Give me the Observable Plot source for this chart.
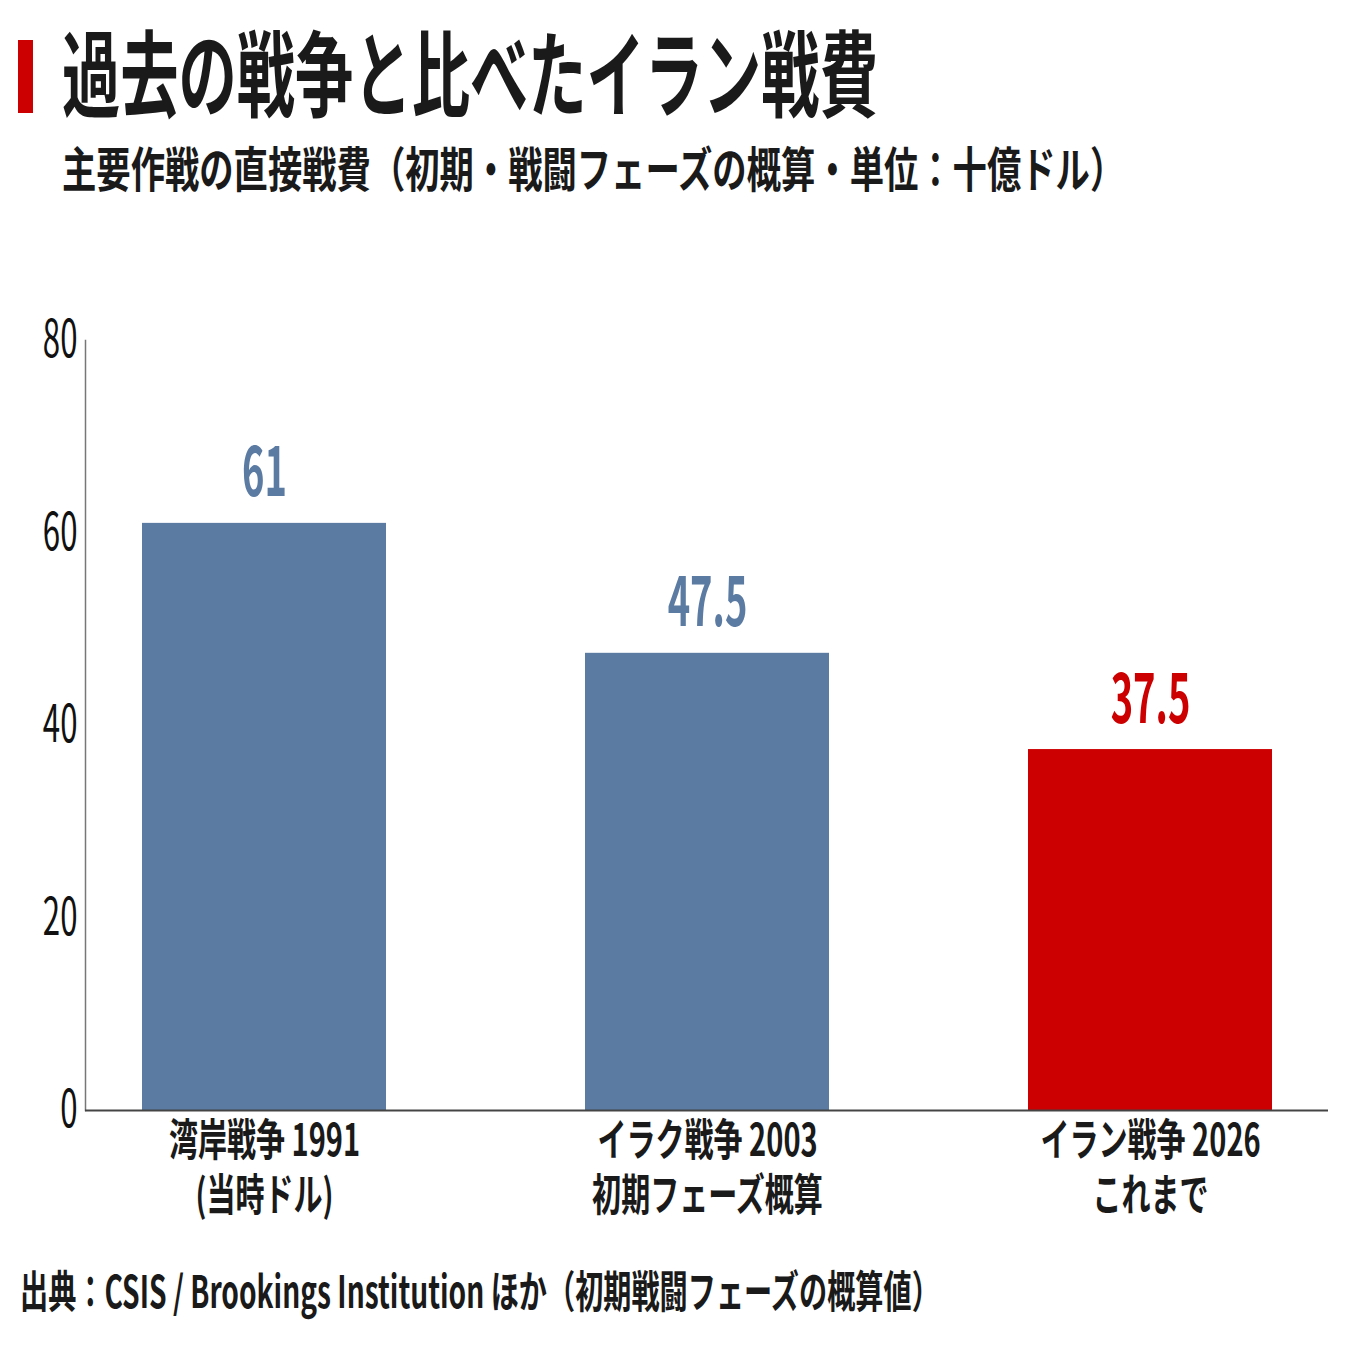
<!DOCTYPE html>
<html lang="ja">
<head>
<meta charset="utf-8">
<script src="https://cdn.jsdelivr.net/npm/d3@7"></script>
<script src="https://cdn.jsdelivr.net/npm/@observablehq/plot@0.6"></script>
<style>
  html, body { margin: 0; padding: 0; background: #fff; }
  body { width: 1347px; height: 1347px; position: relative; overflow: hidden;
         font-family: "Noto Sans CJK JP", "Noto Sans", sans-serif; color: #1a1a1a; }
  .bar { position: absolute; left: 18px; top: 40px; width: 15px; height: 73px; background: #cc0000; }
  .txt { position: absolute; white-space: nowrap; transform-origin: 0 0; line-height: 1; }
  #title { left: 62px; top: 22px; font-size: 94px; font-weight: 700; transform: scaleX(0.62); }
  #subtitle { left: 62px; top: 142px; font-size: 48px; font-weight: 700; transform: scaleX(0.715); }
  #caption { left: 20px; top: 1267px; font-size: 44px; font-weight: 700; transform: scaleX(0.64); }
  #chart { position: absolute; left: 0; top: 250px; }
</style>
</head>
<body>
<div class="bar"></div>
<div id="title" class="txt">過去の戦争と比べたイラン戦費</div>
<div id="subtitle" class="txt">主要作戦の直接戦費（初期・戦闘フェーズの概算・単位：十億ドル）</div>
<div id="chart"></div>
<div id="caption" class="txt">出典：CSIS / Brookings Institution ほか（初期戦闘フェーズの概算値）</div>
<script>
// Direct war costs, billions of dollars
const wars = ["湾岸戦争 1991\n(当時ドル)", "イラク戦争 2003\n初期フェーズ概算", "イラン戦争 2026\nこれまで"];
const costs = [61, 47.5, 37.5];
const barColors = ["#5b7ba3", "#5b7ba3", "#cc0000"];
const yTicks = [0, 20, 40, 60, 80];

const data = wars.map((war, i) => ({war, cost: costs[i], color: barColors[i]}));

const chart = Plot.plot({
  width: 1347,
  height: 1000,
  marginLeft: 85,
  marginRight: 19,
  marginTop: 90,
  marginBottom: 140,
  style: {fontFamily: "'Noto Sans CJK JP', sans-serif", color: "#1a1a1a", background: "#fff"},
  x: {domain: wars, paddingInner: 0.45, paddingOuter: 0.126, label: null},
  y: {domain: [0, 80], label: null},
  marks: [
    Plot.barY(data, {x: "war", y: "cost", fill: "color"}),
    Plot.frame({anchor: "left", stroke: "#777", strokeWidth: 1.5}),
    Plot.ruleY([0], {stroke: "#444", strokeWidth: 2}),
    Plot.axisY({ticks: yTicks, tickSize: 0, tickPadding: 8, fontSize: 52, fill: "#111", label: null}),
    Plot.axisX({tickSize: 0, tickPadding: 6, fontSize: 44, fontWeight: 700, lineHeight: 1.25, fill: "#1a1a1a", label: null}),
    Plot.text(data, {x: "war", y: "cost", text: d => String(d.cost), fill: "color",
                     lineAnchor: "bottom", dy: -27, fontSize: 68, fontWeight: 700})
  ]
});

document.getElementById("chart").appendChild(chart);

// Condense every text horizontally around its own anchor point
function condense(el, s) {
  const box = el.getBBox();
  const anchor = getComputedStyle(el).textAnchor;
  const cx = anchor === "middle" ? box.x + box.width / 2
           : anchor === "end" ? box.x + box.width : box.x;
  const prev = el.getAttribute("transform") || "";
  el.setAttribute("transform", `${prev} translate(${cx},0) scale(${s},1) translate(${-cx},0)`.trim());
}
chart.querySelectorAll("text").forEach(t => {
  const fs = parseFloat(getComputedStyle(t).fontSize);
  condense(t, fs >= 60 ? 0.56 : fs >= 50 ? 0.6 : 0.66);
});
</script>
</body>
</html>
